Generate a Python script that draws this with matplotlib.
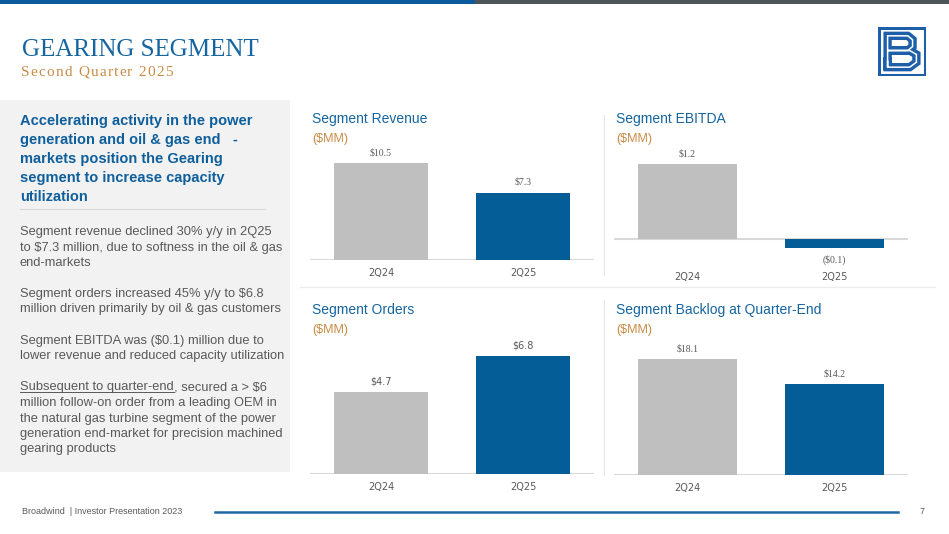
import matplotlib
matplotlib.use("Agg")
from matplotlib import pyplot as plt
from matplotlib.patches import Rectangle
from matplotlib.lines import Line2D

# ---- data ----
periods = ["2Q24", "2Q25"]
revenue = [10.5, 7.3]
ebitda = [1.2, -0.14]
orders = [4.7, 6.8]
backlog = [18.1, 14.2]

BLUE = "#045d97"
GREY_BAR = "#bfbfbf"
TITLE_BLUE = "#1565a0"
ORANGE = "#c98b45"
TXT = "#595959"
LOGO = "#1e5faa"

W, H = 949, 534
fig = plt.figure(figsize=(W / 100, H / 100), dpi=100)
fig.patch.set_facecolor("white")


def fx(x):
    return x / W


def fy(y):
    return 1 - y / H


def px_axes(x0, y0, x1, y1):
    return fig.add_axes([fx(x0), fy(y1), (x1 - x0) / W, (y1 - y0) / H])


def money(v):
    return "(${:.1f})".format(abs(v)) if v < 0 else "${:.1f}".format(v)


def spaced_text(x, y, s, gap, **kw):
    # letter-spaced text, x/y in pixels
    r = fig.canvas.get_renderer()
    for ch in s:
        t = fig.text(fx(x), fy(y), ch, va="baseline", **kw)
        x += t.get_window_extent(r).width + gap


# top bars
fig.add_artist(Rectangle((0, fy(4)), fx(475), 4 / H, transform=fig.transFigure, color="#0a5a9c", lw=0))
fig.add_artist(Rectangle((fx(475), fy(4)), fx(474), 4 / H, transform=fig.transFigure, color="#4b555a", lw=0))

# title
fig.text(fx(22), fy(56), "GEARING SEGMENT", family="Liberation Serif", fontsize=18,
         color=TITLE_BLUE, va="baseline")
spaced_text(21, 76, "Second Quarter 2025", 1.2, family="Liberation Serif", fontsize=11,
            color=ORANGE)

# logo
lax = px_axes(878, 27, 926, 76)
lax.set_xlim(0, 1)
lax.set_ylim(0, 1)
lax.axis("off")
lax.plot([0.03, 0.97, 0.97, 0.03, 0.03], [0.97, 0.97, 0.03, 0.03, 0.97], color=LOGO, lw=2.2)
bx = [0.2, 0.2, 0.62, 0.72, 0.72, 0.62, 0.2, 0.66, 0.8, 0.8, 0.66, 0.2, 0.2]
by = [0.2, 0.82, 0.82, 0.74, 0.6, 0.52, 0.52, 0.52, 0.44, 0.28, 0.18, 0.18, 0.3]
lax.plot(bx, by, color=LOGO, lw=6, solid_joinstyle="miter")
lax.plot(bx, by, color="white", lw=1.1, solid_joinstyle="miter")

# left panel
fig.add_artist(Rectangle((0, fy(472)), fx(290), 372 / H, transform=fig.transFigure,
                         color="#f2f2f2", lw=0))
headline = ["Accelerating activity in the power",
            "generation and oil & gas end   -",
            "markets position the Gearing",
            "segment to increase capacity",
            "utilization"]
for i, line in enumerate(headline):
    fig.text(fx(20), fy(125 + i * 19), line, fontsize=10.5, color="#0e5f9c",
             family="Liberation Sans", weight="bold", va="baseline")
fig.add_artist(Line2D([fx(20), fx(265)], [fy(209), fy(209)], transform=fig.transFigure,
                      color="#d9d9d9", lw=0.8))

body = [(235, "Segment revenue declined 30% y/y in 2Q25"),
        (251, "to $7.3 million, due to softness in the oil & gas"),
        (266, "end-markets"),
        (297, "Segment orders increased 45% y/y to $6.8"),
        (312, "million driven primarily by oil & gas customers"),
        (344, "Segment EBITDA was ($0.1) million due to"),
        (359, "lower revenue and reduced capacity utilization"),
        (406, "million follow-on order from a leading OEM in"),
        (422, "the natural gas turbine segment of the power"),
        (437, "generation end-market for precision machined"),
        (452, "gearing products")]
for y, line in body:
    fig.text(fx(20), fy(y), line, fontsize=9.3, color=TXT, family="Liberation Sans", va="baseline")

u = fig.text(fx(20), fy(390), "Subsequent to quarter-end", fontsize=9.3, color=TXT,
             family="Liberation Sans", va="baseline")
fig.canvas.draw()
bb = u.get_window_extent()
fig.text(bb.x1 / W, fy(390), ", secured a > $6", fontsize=9.3, color=TXT,
         family="Liberation Sans", va="baseline")
fig.add_artist(Line2D([fx(20), bb.x1 / W], [fy(392), fy(392)], transform=fig.transFigure,
                      color=TXT, lw=0.7))

# separators
for y0, y1 in ((115, 275), (300, 475)):
    fig.add_artist(Line2D([fx(604), fx(604)], [fy(y0), fy(y1)], transform=fig.transFigure,
                          color="#e6e6e6", lw=0.8))
fig.add_artist(Line2D([fx(300), fx(935)], [fy(287), fy(287)], transform=fig.transFigure,
                      color="#ededed", lw=1))


def panel(box, vals, ylim, title, title_y, lbl_font, pad):
    x0, y0, x1, y1 = box
    fig.text(fx(x0 + 2), fy(title_y), title, fontsize=10, color=TITLE_BLUE,
             family="Liberation Sans", va="baseline")
    fig.text(fx(x0 + 2), fy(title_y + 19), "($MM)", fontsize=9, color=ORANGE,
             family="Liberation Sans", va="baseline")
    ax = px_axes(x0, y0, x1, y1)
    ax.bar([0, 1], vals, width=0.667, color=[GREY_BAR, BLUE])
    ax.axhline(0, color="#d9d9d9", lw=1.5, zorder=0)
    ax.set_xlim(-0.5, 1.5)
    ax.set_ylim(*ylim)
    for s in ax.spines.values():
        s.set_visible(False)
    ax.set_yticks([])
    ax.set_xticks([0, 1])
    ax.set_xticklabels(periods, fontsize=7, color=TXT, family="DejaVu Sans")
    ax.tick_params(axis="x", length=0, pad=pad)
    ax.patch.set_alpha(0)
    for i, v in enumerate(vals):
        ax.annotate(money(v), (i, v), xytext=(0, 4 if v >= 0 else -5), textcoords="offset points",
                    ha="center", va="bottom" if v >= 0 else "top", fontsize=7,
                    color=TXT, family=lbl_font)
    return ax


panel((310, 150, 594, 260), revenue, (0, 11.9), "Segment Revenue", 123, "Liberation Serif", 6)
panel((614, 150, 908, 255), ebitda, (-0.256, 1.424), "Segment EBITDA", 123, "Liberation Serif", 12)
panel((310, 340, 594, 474), orders, (0, 7.72), "Segment Orders", 314, "DejaVu Sans", 6)
panel((614, 340, 908, 475), backlog, (0, 21.06), "Segment Backlog at Quarter-End", 314,
      "Liberation Serif", 6)

# footer
fig.text(fx(22), fy(512), "Broadwind  | Investor Presentation 2023", fontsize=6.5, color=TXT,
         family=["Liberation Sans Narrow", "Liberation Sans"], va="center")
fig.add_artist(Line2D([fx(215), fx(898)], [fy(512), fy(512)], transform=fig.transFigure,
                      color="#1f6aa5", lw=1.8))
fig.text(fx(920), fy(512), "7", fontsize=6.5, color=TXT, family="Liberation Sans", va="center")

fig.savefig("out.png", dpi=100)
